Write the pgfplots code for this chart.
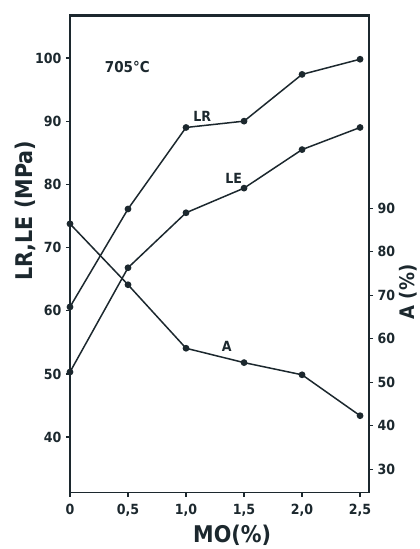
\documentclass[border=0pt]{standalone}
\usepackage{pgfplots}
\pgfplotsset{compat=1.18}
\usepackage{fontspec}
\setmainfont{DejaVu Sans Condensed}
\definecolor{ink}{RGB}{28,40,46}

% MO content (%) against tensile strength LR, yield strength LE (MPa) and elongation A (%)
\pgfplotstableread{
mo   LR    LE
0.0  60.6  50.3
0.5  76.1  66.8
1.0  89.0  75.5
1.5  90.0  79.4
2.0  97.4  85.5
2.5  99.8  89.0
}\strength
\pgfplotstableread{
mo   A
0.0  86.4
0.5  72.4
1.0  57.8
1.5  54.5
2.0  51.7
2.5  42.3
}\elong

\begin{document}
\begin{tikzpicture}
\useasboundingbox (0pt,0pt) rectangle (420pt,549pt);
\pgfplotsset{
  common/.style={
    at={(70pt,56.3pt)}, anchor=south west,
    scale only axis, width=299pt, height=477.7pt,
    xmin=0, xmax=2.577,
    clip=false,
    font=\bfseries\fontsize{14}{16}\selectfont,
    /pgf/number format/assume math mode=true,
    axis line style={ink, line width=1.4pt},
    tick style={ink, line width=1.2pt},
    tick align=outside, major tick length=4pt,
    ticklabel style={text=ink},
  },
}
\begin{axis}[common, name=main,
  ymin=31.2, ymax=106.8,
  xtick={0,0.5,1,1.5,2,2.5},
  xticklabels={0,{0,5},{1,0},{1,5},{2,0},{2,5}},
  ytick={40,50,60,70,80,90,100},
  xtick pos=bottom, ytick pos=left,
  xticklabel style={yshift=-4pt},
  yticklabel style={xshift=-1pt},
  xlabel={MO(\%)},
  ylabel={LR,LE (MPa)},
  xlabel style={at={(axis description cs:0.542,-0.0886)}, anchor=center,
    font=\bfseries\fontsize{23}{25}\selectfont, text=ink},
  ylabel style={at={(axis description cs:-0.148,0.590)}, anchor=center,
    font=\bfseries\fontsize{23}{25}\selectfont, text=ink},
]
\addplot[ink, line width=1.5pt, mark=*, mark size=2.6pt] table[x=mo, y=LR] {\strength};
\addplot[ink, line width=1.5pt, mark=*, mark size=2.6pt] table[x=mo, y=LE] {\strength};
\node[text=ink, anchor=west, font=\bfseries\fontsize{15}{17}\selectfont] at (axis cs:0.27,98.6) {705°C};
\node[text=ink, font=\bfseries\fontsize{14}{16}\selectfont] at (axis cs:1.14,90.8) {LR};
\node[text=ink, font=\bfseries\fontsize{14}{16}\selectfont] at (axis cs:1.41,81.0) {LE};
\node[text=ink, font=\bfseries\fontsize{14}{16}\selectfont] at (axis cs:1.35,54.4) {A};
\end{axis}
\begin{axis}[common,
  ymin=24.6, ymax=134.4,
  axis x line=none,
  axis y line*=right,
  ytick={30,40,50,60,70,80,90},
  yticklabel style={xshift=1pt},
  ylabel={A (\%)},
  ylabel style={at={(axis description cs:1.130,0.420)}, anchor=center,
    font=\bfseries\fontsize{20}{22}\selectfont, text=ink},
]
\addplot[ink, line width=1.5pt, mark=*, mark size=2.6pt] table[x=mo, y=A] {\elong};
\end{axis}
% top edge of the frame
\fill[ink] ([xshift=-0.7pt,yshift=0.7pt]main.north west) rectangle ([xshift=0.7pt,yshift=-1.6pt]main.north east);
\end{tikzpicture}
\end{document}
